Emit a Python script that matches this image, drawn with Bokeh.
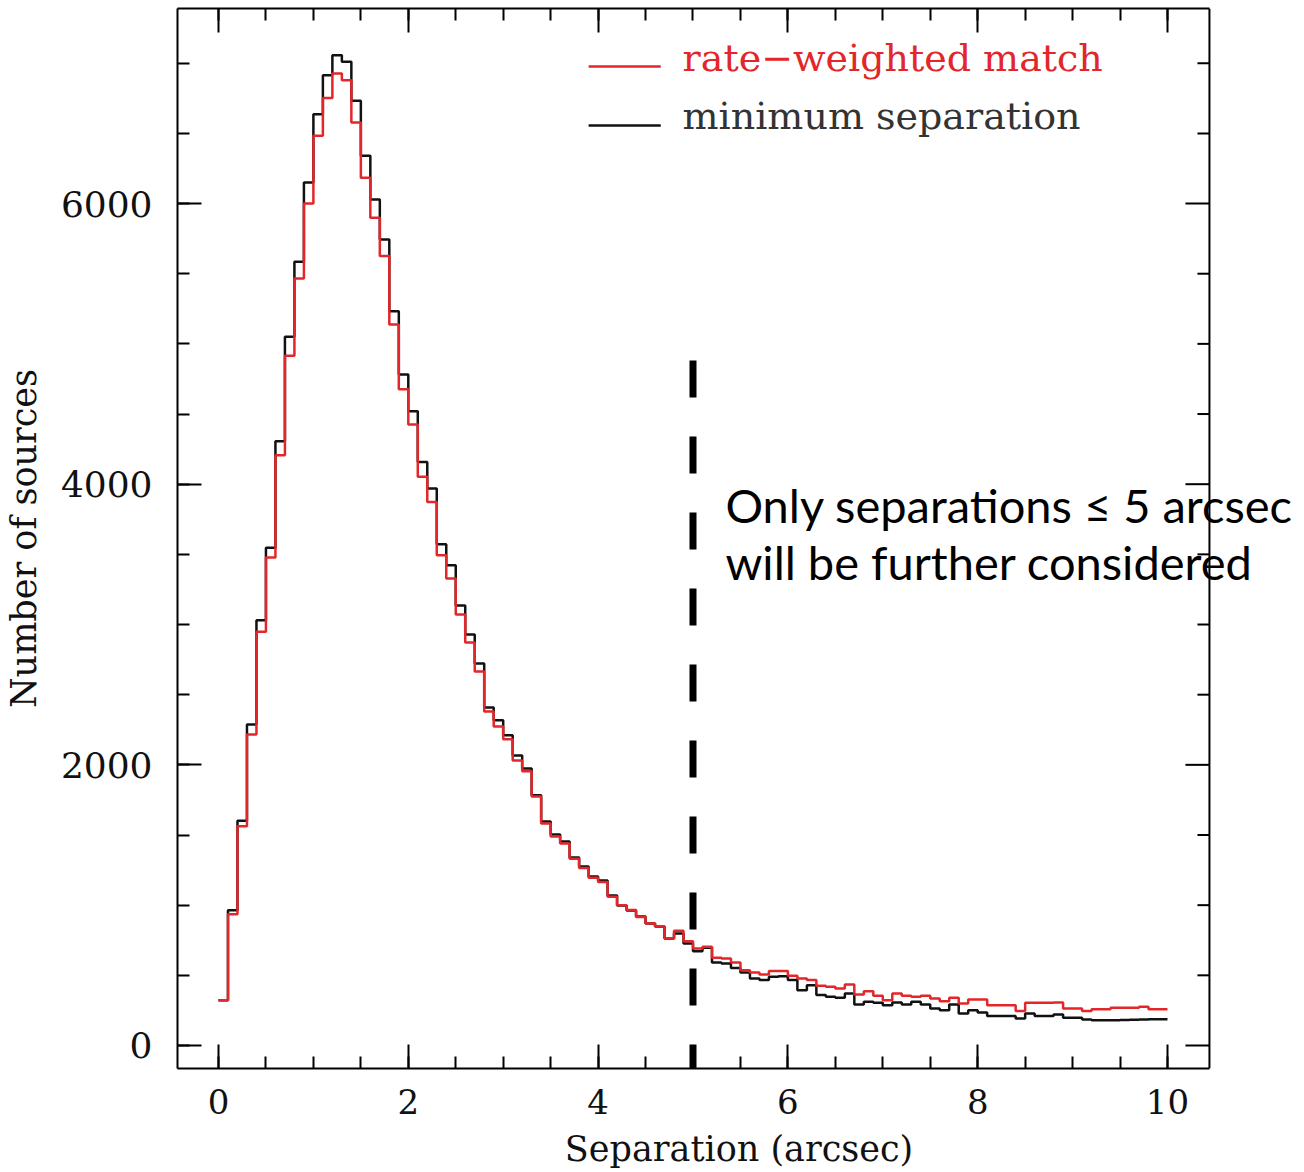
import numpy as np
from bokeh.plotting import figure
from bokeh.models import (Range1d, LinearAxis, SingleIntervalTicker,
                          CustomJSTickFormatter, Label, Arrow, Span)
from bokeh.embed import file_html
from bokeh.resources import INLINE

# ---- data: histogram of counterpart separations (0.1 arcsec bins) ----
bin_edges = [round(0.1 * i, 1) for i in range(101)]

min_separation = [
    323, 964, 1601, 2287, 3031, 3547, 4306, 5050, 5585, 6150,
    6637, 6915, 7057, 7010, 6732, 6340, 6029, 5744, 5233, 4782,
    4520, 4159, 3969, 3572, 3423, 3135, 2929, 2722, 2409, 2318,
    2211, 2066, 1974, 1784, 1596, 1504, 1454, 1340, 1276, 1204,
    1176, 1069, 998, 962, 919, 869, 848, 762, 798, 727,
    672, 696, 591, 584, 553, 520, 477, 466, 490, 494,
    466, 394, 430, 359, 347, 340, 371, 292, 311, 304,
    287, 306, 292, 311, 292, 264, 252, 292, 228, 252,
    235, 211, 211, 211, 192, 228, 211, 211, 221, 197,
    197, 185, 180, 180, 180, 182, 183, 185, 187, 187,
]

rate_weighted = [
    323, 936, 1563, 2216, 2948, 3478, 4207, 4915, 5466, 6000,
    6483, 6753, 6926, 6879, 6577, 6183, 5898, 5627, 5138, 4677,
    4425, 4053, 3874, 3494, 3328, 3071, 2872, 2665, 2380, 2273,
    2183, 2031, 1955, 1774, 1582, 1490, 1440, 1330, 1265, 1195,
    1165, 1060, 1000, 965, 915, 870, 850, 765, 817, 743,
    691, 703, 625, 620, 591, 537, 520, 506, 530, 530,
    497, 477, 466, 425, 418, 406, 435, 363, 387, 354,
    323, 371, 354, 347, 355, 335, 316, 340, 299, 328,
    328, 287, 287, 287, 245, 304, 304, 304, 307, 264,
    264, 245, 259, 259, 269, 269, 269, 276, 259, 259,
]

cut_separation = 5.0
series_labels = ["rate\u2212weighted match", "minimum separation"]
note_lines = ["Only separations \u2264 5 arcsec", "will be further considered"]
y_major_ticks = [0, 2000, 4000, 6000]
y_minor_ticks = [500, 1000, 1500, 2500, 3000, 3500, 4500, 5000, 5500, 6500, 7000]

RED = "#e3262a"
BLACK = "#111111"
SERIF = "DejaVu Serif"

# plot box (axes box) in data units; the frame extends to the right so the
# note can run past the box edge as in the original
BOX_X0, BOX_X1 = -0.432, 10.442
BOX_Y0, BOX_Y1 = -164, 7390
PX_PER_X = 94.9
FRAME_W = 1123
FRAME_H = 1060

p = figure(frame_width=FRAME_W, frame_height=FRAME_H,
           x_range=Range1d(BOX_X0, BOX_X0 + FRAME_W / PX_PER_X),
           y_range=Range1d(BOX_Y0, BOX_Y1),
           output_backend="svg", toolbar_location=None,
           min_border_left=175, min_border_right=0,
           min_border_top=8, min_border_bottom=0)
p.grid.visible = False
p.outline_line_color = None
p.background_fill_color = "white"

def style_axis(ax, labelled):
    ax.axis_line_width = 2
    ax.axis_line_color = "black"
    ax.major_tick_in = 24
    ax.major_tick_out = 0
    ax.minor_tick_in = 12
    ax.minor_tick_out = 0
    ax.major_tick_line_width = 2
    ax.minor_tick_line_width = 2
    if labelled:
        ax.major_label_text_font = SERIF
        ax.major_label_text_color = "#111111"
        ax.axis_label_text_font = SERIF
        ax.axis_label_text_font_size = "35px"
        ax.axis_label_text_font_style = "normal"
        ax.axis_label_text_color = "#111111"
    else:
        ax.formatter = CustomJSTickFormatter(code="return ''")
        ax.major_label_standoff = 0

xax = p.xaxis[0]
yax = p.yaxis[0]
xax.ticker = SingleIntervalTicker(interval=2, num_minor_ticks=4)
yax.ticker = SingleIntervalTicker(interval=2000, num_minor_ticks=4)
style_axis(xax, True)
style_axis(yax, True)
xax.bounds = (BOX_X0, BOX_X1)
xax.major_label_text_font_size = "34px"
yax.major_label_text_font_size = "36px"
xax.axis_label = "Separation (arcsec)"
yax.axis_label = "Number of sources"
xax.major_label_standoff = 20
xax.axis_label_standoff = 12
yax.major_label_standoff = 25
yax.axis_label_standoff = 14
yax.major_label_orientation = "horizontal"

top = LinearAxis(ticker=SingleIntervalTicker(interval=2, num_minor_ticks=4),
                 bounds=(BOX_X0, BOX_X1))
style_axis(top, False)
p.add_layout(top, "above")

# right edge of the box with inward ticks
p.add_layout(Span(location=BOX_X1, dimension="height", line_color="black",
                  line_width=2))
maj_len = 24 / PX_PER_X
min_len = 12 / PX_PER_X
p.segment(x0=[BOX_X1] * len(y_major_ticks), y0=y_major_ticks,
          x1=[BOX_X1 - maj_len] * len(y_major_ticks), y1=y_major_ticks,
          line_color="black", line_width=2)
p.segment(x0=[BOX_X1] * len(y_minor_ticks), y0=y_minor_ticks,
          x1=[BOX_X1 - min_len] * len(y_minor_ticks), y1=y_minor_ticks,
          line_color="black", line_width=2)

# histograms
p.step(x=bin_edges, y=min_separation + [min_separation[-1]], mode="after",
       line_color=BLACK, line_width=2.5)
p.step(x=bin_edges, y=rate_weighted + [rate_weighted[-1]], mode="after",
       line_color=RED, line_width=2.5)

# legend (drawn by hand: coloured texts)
p.segment(x0=[3.90], y0=[6976], x1=[4.66], y1=[6976], line_color=RED, line_width=2.5)
p.segment(x0=[3.90], y0=[6556], x1=[4.66], y1=[6556], line_color=BLACK, line_width=2.5)
p.add_layout(Label(x=4.89, y=7040, text=series_labels[0], text_font=SERIF,
                   text_font_size="38px", text_color=RED,
                   text_baseline="alphabetic"))
p.add_layout(Label(x=4.89, y=6625, text=series_labels[1], text_font=SERIF,
                   text_font_size="38px", text_color="#333333",
                   text_baseline="alphabetic"))

# cut line at 5 arcsec
p.add_layout(Arrow(end=None, x_start=cut_separation, y_start=4881,
                   x_end=cut_separation, y_end=-320,
                   line_width=7, line_color="black", line_dash="37 39"))

# note
p.add_layout(Label(x=5.342, y=3850, text=note_lines[0], text_font="Lato",
                   text_font_size="47px", text_color="black",
                   text_baseline="alphabetic"))
p.add_layout(Label(x=5.342, y=3445, text=note_lines[1], text_font="Lato",
                   text_font_size="47px", text_color="black",
                   text_baseline="alphabetic"))

open("out.html", "w").write(file_html(p, INLINE))
